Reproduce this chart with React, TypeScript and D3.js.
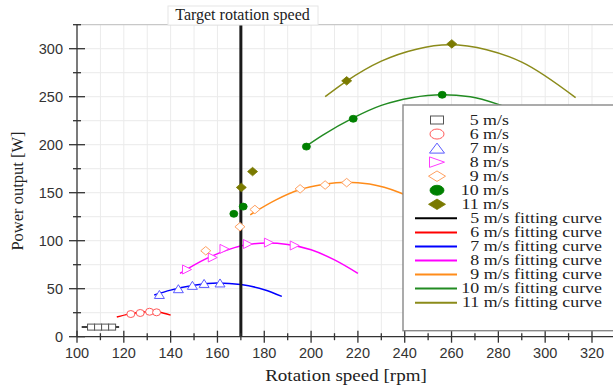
import React from 'react';
import * as d3 from 'd3';

// axis ticks
const xMajor = [100, 120, 140, 160, 180, 200, 220, 240, 260, 280, 300, 320];
const xMinor = [110, 130, 150, 170, 190, 210, 230, 250, 270, 290, 310, 330];
const yMajor = [0, 50, 100, 150, 200, 250, 300];
const yMinor = [25, 75, 125, 175, 225, 275, 325];
const targetSpeed = 170;

// measured points (rpm, W)
const speed5 = [106, 109, 112, 115];
const power5 = [10, 10, 10, 10];
const speed6 = [123, 127, 131, 134];
const power6 = [23.6, 24.7, 26, 25.4];
const speed7 = [135.2, 143.3, 149.3, 154.3, 161.1];
const power7 = [44, 50, 53.5, 55.5, 56];
const speed8 = [147, 158, 163, 173, 182, 193];
const power8 = [70, 82.5, 91.5, 96.5, 98, 95];
const speed9 = [155, 169.6, 176, 195.3, 206, 215.2];
const power9 = [89.5, 114.5, 132.5, 154, 158, 160.5];
const speed10 = [167, 171, 198, 218, 256];
const power10 = [128, 135.5, 198, 227, 252];
const speed11 = [170.2, 175, 215.2, 260.1];
const power11 = [155.5, 172, 266.5, 305];

// fitting curves
const fitSpeed5 = [102, 110, 118];
const fitPower5 = [10, 10, 10];
const fitSpeed6 = [117, 122, 127, 131, 135, 140];
const fitPower6 = [20.5, 23.5, 25.5, 26, 25.5, 22.5];
const fitSpeed7 = [133, 140, 150, 160, 170, 180, 187.5];
const fitPower7 = [43.5, 48.5, 53.5, 56, 54.3, 49, 42];
const fitSpeed8 = [144, 155, 165, 173, 181, 190, 200, 210, 220];
const fitPower8 = [66, 81, 91, 96, 97.5, 96, 90.5, 80, 66];
const fitSpeed9 = [174, 185, 195, 205, 215, 225, 238, 250];
const fitPower9 = [127, 142.5, 153, 158.5, 161, 159, 150, 136];
const fitSpeed10 = [197, 205, 218, 230, 243, 256, 268, 280, 292];
const fitPower10 = [197, 210, 228, 241, 249, 252, 250, 242, 230];
const fitSpeed11 = [206, 215, 230, 245, 259, 275, 290, 313];
const fitPower11 = [250, 266, 287, 299.5, 304, 299, 286, 249];

const pointSeries = [
  { name: '5 m/s', speed: speed5, power: power5, shape: 'square', color: '#555555', filled: false },
  { name: '6 m/s', speed: speed6, power: power6, shape: 'circle', color: '#ff5a5a', filled: false },
  { name: '7 m/s', speed: speed7, power: power7, shape: 'triUp', color: '#5a5aff', filled: false },
  { name: '8 m/s', speed: speed8, power: power8, shape: 'triRight', color: '#ff3cff', filled: false },
  { name: '9 m/s', speed: speed9, power: power9, shape: 'diamond', color: '#ffa060', filled: false },
  { name: '10 m/s', speed: speed10, power: power10, shape: 'circle', color: '#008000', filled: true },
  { name: '11 m/s', speed: speed11, power: power11, shape: 'diamond', color: '#7a7a00', filled: true },
];

const fitSeries = [
  { name: '5 m/s fitting curve', speed: fitSpeed5, power: fitPower5, color: '#000000' },
  { name: '6 m/s fitting curve', speed: fitSpeed6, power: fitPower6, color: '#ff0000' },
  { name: '7 m/s fitting curve', speed: fitSpeed7, power: fitPower7, color: '#0000ff' },
  { name: '8 m/s fitting curve', speed: fitSpeed8, power: fitPower8, color: '#ff00ff' },
  { name: '9 m/s fitting curve', speed: fitSpeed9, power: fitPower9, color: '#ff8c1a' },
  { name: '10 m/s fitting curve', speed: fitSpeed10, power: fitPower10, color: '#228b22' },
  { name: '11 m/s fitting curve', speed: fitSpeed11, power: fitPower11, color: '#8b8b1a' },
];

const serif = '"Liberation Serif", "DejaVu Serif", serif';
const sans = '"Liberation Sans", Arial, sans-serif';

function Marker({ shape, cx, cy, w, h, color, filled }) {
  const fill = filled ? color : '#fff';
  const sw = filled ? 0.8 : 1;
  const hw = w / 2, hh = h / 2;
  if (shape === 'square')
    return <rect x={cx - hw} y={cy - hh} width={w} height={h} fill={fill} stroke={color} strokeWidth={sw} />;
  if (shape === 'circle')
    return <ellipse cx={cx} cy={cy} rx={hw} ry={hh} fill={fill} stroke={color} strokeWidth={sw} />;
  let pts;
  if (shape === 'triUp') pts = [[cx, cy - hh], [cx + hw, cy + hh], [cx - hw, cy + hh]];
  else if (shape === 'triRight') pts = [[cx - hw, cy - hh], [cx + hw, cy], [cx - hw, cy + hh]];
  else pts = [[cx, cy - hh], [cx + hw, cy], [cx, cy + hh], [cx - hw, cy]];
  return <polygon points={pts.map(p => p.join(',')).join(' ')} fill={fill} stroke={color} strokeWidth={sw} />;
}

// sizes in the plot and in the legend, per marker shape
const plotSize = {
  square: [7, 6], circle: [8, 7], triUp: [10, 8], triRight: [9, 9], diamond: [10, 8.5],
};
const legendSize = {
  square: [13, 8], circle: [14, 10], triUp: [15, 10], triRight: [15, 10.5], diamond: [17, 10.5],
};

export default function App() {
  const width = 613, height = 387;
  const x = d3.scaleLinear().domain([100, 330]).range([77, 615.4]);
  const y = d3.scaleLinear().domain([0, 325]).range([336.7, 24.7]);
  const line = d3.line<number>().curve(d3.curveMonotoneX);

  const top = y(325), bottom = y(0), left = x(100);
  const legX = 403, legY = 105, rowH = 14.05;

  return (
    <svg width={width} height={height} style={{ position: 'absolute', left: 0, top: 0, background: '#fff' }}>
      {/* grid */}
      <g stroke="#ebebeb" strokeWidth={1}>
        {[...xMajor, ...xMinor].filter(v => v > 100).map(v => (
          <line key={'gx' + v} x1={x(v)} x2={x(v)} y1={top} y2={bottom} />
        ))}
        {[...yMajor, ...yMinor].filter(v => v > 0 && v < 325).map(v => (
          <line key={'gy' + v} x1={left} x2={width} y1={y(v)} y2={y(v)} />
        ))}
      </g>
      <line x1={left} x2={width} y1={top} y2={top} stroke="#c8c8c8" strokeWidth={1.2} />

      {/* fitting curves */}
      {fitSeries.map(s => (
        <path key={s.name} d={line(s.speed.map((v, i) => [x(v), y(s.power[i])]))!}
          fill="none" stroke={s.color} strokeWidth={1.5} />
      ))}

      {/* target rotation speed */}
      <line x1={x(targetSpeed)} x2={x(targetSpeed)} y1={top} y2={bottom} stroke="#1a1a1a" strokeWidth={3} />

      {/* measured points */}
      {pointSeries.map(s => (
        <g key={s.name}>
          {s.speed.map((v, i) => (
            <Marker key={i} shape={s.shape} cx={x(v)} cy={y(s.power[i])}
              w={plotSize[s.shape][0]} h={plotSize[s.shape][1]} color={s.color} filled={s.filled} />
          ))}
        </g>
      ))}

      {/* axes */}
      <g stroke="#333" strokeWidth={1.3}>
        <line x1={left} x2={left} y1={top - 0.5} y2={bottom} />
        <line x1={left} x2={width} y1={bottom} y2={bottom} />
        {xMajor.map(v => <line key={'xM' + v} x1={x(v)} x2={x(v)} y1={bottom - 6} y2={bottom + 6} />)}
        {xMinor.map(v => <line key={'xm' + v} x1={x(v)} x2={x(v)} y1={bottom - 3.5} y2={bottom + 3.5} />)}
        {yMajor.map(v => <line key={'yM' + v} x1={left - 8} x2={left + 8} y1={y(v)} y2={y(v)} />)}
        {yMinor.map(v => <line key={'ym' + v} x1={left - 4} x2={left + 4} y1={y(v)} y2={y(v)} />)}
      </g>
      <g fontFamily={sans} fontSize={14.5} fill="#333">
        {xMajor.map(v => (
          <text key={'xl' + v} x={x(v)} y={358} textAnchor="middle">{v}</text>
        ))}
        {yMajor.map(v => (
          <text key={'yl' + v} x={63} y={y(v) + 5} textAnchor="end">{v}</text>
        ))}
      </g>

      {/* axis titles */}
      <text x={346} y={381} textAnchor="middle" fontFamily={serif} fontSize={17}
        transform="translate(346,0) scale(1.12,1) translate(-346,0)" fill="#222">Rotation speed [rpm]</text>
      <text transform="translate(23,191) rotate(-90)" textAnchor="middle" fontFamily={serif} fontSize={16.5}
        fill="#222">Power output [W]</text>

      {/* title */}
      <rect x={168} y={6} width={150} height={19} fill="#fff" stroke="#e6e6e6" strokeWidth={1} />
      <text x={242.5} y={20} textAnchor="middle" fontFamily={serif} fontSize={16} fill="#222">Target rotation speed</text>

      {/* legend */}
      <rect x={legX} y={legY} width={width - legX + 10} height={330.7 - legY} fill="#fff" stroke="#888" strokeWidth={1.4} />
      {pointSeries.map((s, i) => {
        const cy = 120 + i * rowH;
        return (
          <g key={'lp' + s.name}>
            <Marker shape={s.shape} cx={437} cy={cy} w={legendSize[s.shape][0]} h={legendSize[s.shape][1]}
              color={s.color} filled={s.filled} />
            <text transform={`translate(509,${cy + 4.5}) scale(1.28,1)`} textAnchor="end"
              fontFamily={serif} fontSize={14} fill="#222">{s.name}</text>
          </g>
        );
      })}
      {fitSeries.map((s, i) => {
        const cy = 120 + (i + 7) * rowH;
        return (
          <g key={'lf' + s.name}>
            <line x1={415} x2={457} y1={cy} y2={cy} stroke={s.color} strokeWidth={2} />
            <text transform={`translate(602,${cy + 4.5}) scale(1.28,1)`} textAnchor="end"
              fontFamily={serif} fontSize={14} fill="#222">{s.name}</text>
          </g>
        );
      })}
    </svg>
  );
}
